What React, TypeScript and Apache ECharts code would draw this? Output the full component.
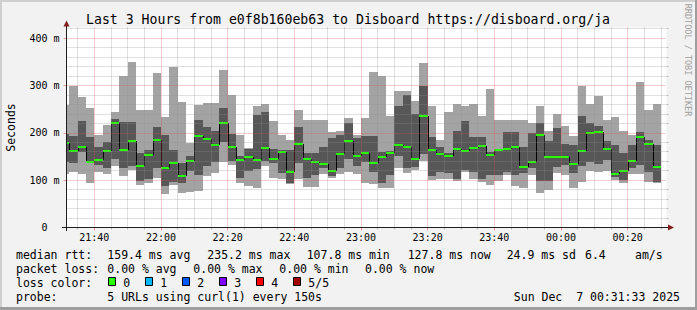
import React, { useEffect, useRef } from 'react';
import * as echarts from 'echarts';

// ---------- texts ----------
const TITLE = 'Last 3 Hours from e0f8b160eb63 to Disboard https://disboard.org/ja';
const Y_NAME = 'Seconds';
const WATERMARK = 'RRDTOOL / TOBI OETIKER';
const medianLabel = 'median rtt:';
const medianStats = ['159.4 ms avg', '235.2 ms max', '107.8 ms min', '127.8 ms now', '24.9 ms sd', '6.4', 'am/s'];
const lossLabel = 'packet loss:';
const lossStats = ['0.00 % avg', '0.00 % max', '0.00 % min', '0.00 % now'];
const lossColorLabel = 'loss color:';
const lossBuckets = ['0', '1', '2', '3', '4', '5/5'];
const probeLabel = 'probe:';
const probeText = '5 URLs using curl(1) every 150s';
const dateText = 'Sun Dec\u00a0 7 00:31:33 2025';

// ---------- time axis (minutes after 21:00) ----------
const STEP = 2.5;
const FIRST_BAR_START = 30;
const VIEW_START = 31.66;
const VIEW_END = 211.66;
const Y_MAX = 422.4;

const majorTimeTicks = [40, 60, 80, 100, 120, 140, 160, 180, 200];
const minorTimeTicks = [35, 45, 50, 55, 65, 70, 75, 85, 90, 95, 105, 110, 115, 125, 130, 135, 145, 150, 155, 165, 170, 175, 185, 190, 195, 205, 210];
const majorYTicks = [0, 100, 200, 300, 400];
const minorYTicks = [20, 40, 60, 80, 120, 140, 160, 180, 220, 240, 260, 280, 320, 340, 360, 380, 420];

// ---------- data (ms), one value per 150 s step ----------
const smokeMax = [259, 299, 275, 252, 196, 217, 244, 320, 350, 248, 248, 327, 234, 338, 266, 178, 258, 264, 264, 333, 279, 196, 168, 256, 260, 224, 196, 185, 248, 227, 227, 227, 201, 204, 232, 196, 232, 328, 321, 236, 289, 289, 268, 348, 256, 185, 244, 261, 257, 261, 236, 293, 227, 227, 227, 226, 220, 256, 203, 240, 215, 194, 299, 261, 277, 227, 234, 204, 196, 308, 248, 261];
const smokeUpper = [198, 194, 225, 192, 170, 180, 229, 222, 222, 158, 164, 213, 195, 164, 136, 152, 227, 212, 203, 253, 198, 150, 165, 238, 243, 166, 164, 164, 213, 158, 158, 171, 189, 196, 220, 189, 194, 194, 160, 162, 256, 280, 239, 299, 192, 171, 158, 204, 225, 192, 192, 160, 166, 201, 201, 171, 199, 220, 183, 211, 176, 175, 235, 220, 215, 183, 175, 157, 175, 201, 185, 175];
const median = [178, 161, 169, 139, 143, 161, 220, 163, 182, 129, 154, 184, 125, 137, 108, 141, 194, 186, 175, 220, 170, 142, 148, 143, 167, 144, 160, 118, 177, 144, 139, 134, 120, 156, 182, 150, 158, 136, 148, 158, 175, 171, 145, 235, 164, 155, 150, 165, 161, 167, 173, 154, 164, 166, 169, 128, 139, 196, 148, 148, 148, 135, 162, 199, 201, 166, 114, 120, 141, 191, 177, 127];
const smokeLower = [138, 136, 160, 136, 132, 125, 145, 125, 130, 99, 103, 125, 88, 97, 93, 120, 110, 129, 138, 180, 140, 104, 120, 124, 140, 136, 115, 94, 136, 104, 111, 125, 108, 125, 145, 130, 139, 118, 94, 111, 150, 125, 128, 155, 108, 118, 115, 102, 122, 118, 103, 111, 110, 118, 111, 115, 125, 99, 99, 128, 132, 115, 130, 139, 135, 142, 107, 100, 125, 132, 118, 97];
const smokeMin = [113, 118, 113, 95, 118, 112, 130, 108, 122, 89, 94, 105, 70, 90, 73, 75, 78, 108, 116, 138, 131, 93, 88, 84, 130, 104, 103, 91, 103, 85, 85, 113, 105, 113, 117, 113, 93, 92, 83, 83, 125, 115, 122, 140, 100, 103, 103, 98, 118, 103, 97, 90, 99, 111, 88, 83, 110, 73, 80, 115, 110, 83, 97, 120, 118, 120, 101, 94, 114, 113, 97, 95];

// ---------- styles ----------
const FONT = '"DejaVu Sans Mono", monospace';
const BG = '#f2f2f2';
const GRID_C = 'rgba(143,143,143,0.55)';
const MGRID_C = 'rgba(222,79,79,0.55)';
const AXIS_C = '#1f1f1f';
const ARROW_C = '#801f1f';
const LIGHT = '#a3a3a3';
const DARK = '#575757';
const GREEN = '#26ff00';
const lossPalette = ['#26ff00', '#00b8ff', '#0059ff', '#7e00ff', '#ff0000', '#a10000'];

const pad = (n: number) => (n < 10 ? '0' + n : '' + n);
const fmtTime = (v: number) => {
  const t = Math.round(21 * 60 + v);
  return pad(Math.floor(t / 60) % 24) + ':' + pad(t % 60);
};

function buildOption() {
  const starts = median.map((_, i) => FIRST_BAR_START + i * STEP);
  const lightData = starts.map((s, i) => [s, s + STEP, smokeMin[i], smokeMax[i]]);
  const darkData = starts.map((s, i) => [s, s + STEP, smokeLower[i], smokeUpper[i]]);
  const medData = starts.map((s, i) => [s, s + STEP, median[i], i > 0 ? median[i - 1] : median[i]]);

  const rectRender = (color: string) => (_p: any, api: any) => {
    const a = api.coord([api.value(0), api.value(3)]);
    const b = api.coord([api.value(1), api.value(2)]);
    const x0 = Math.round(a[0]);
    const x1 = Math.round(b[0]);
    const y0 = Math.round(a[1]);
    const y1 = Math.round(b[1]);
    return { type: 'rect', shape: { x: x0, y: y0, width: x1 - x0, height: y1 - y0 }, style: { fill: color } };
  };

  const medRender = (_p: any, api: any) => {
    const a = api.coord([api.value(0), api.value(2)]);
    const b = api.coord([api.value(1), api.value(2)]);
    const p = api.coord([api.value(0), api.value(3)]);
    const x0 = Math.round(a[0]);
    const x1 = Math.round(b[0]);
    const y = Math.round(a[1]);
    const yp = Math.round(p[1]);
    return {
      type: 'group',
      children: [
        { type: 'line', shape: { x1: x0 + 0.5, y1: yp, x2: x0 + 0.5, y2: y }, style: { stroke: '#000', lineWidth: 1 } },
        { type: 'line', shape: { x1: x0, y1: y, x2: x1, y2: y }, style: { stroke: GREEN, lineWidth: 2 } },
      ],
    };
  };

  const txt = (text: string, x: number, y: number, size: number, align = 'left', extra: any = {}) => ({
    type: 'text',
    x,
    y,
    z: 50,
    ...extra,
    style: {
      text,
      fill: extra.fill || '#000',
      font: `${size}px ${FONT}`,
      textAlign: align,
      textVerticalAlign: 'middle',
      align,
      verticalAlign: 'middle',
    },
  });

  const rowY = [255.3, 269.3, 283.3, 297.3];
  const medX = [107.3, 207.3, 306.7, 407.7, 506.7, 585, 635];
  const lossX = [107.3, 193.3, 279.3, 365];
  const boxX = [108, 145, 182, 219, 256, 293];

  const graphics: any[] = [
    { type: 'rect', z: 1, shape: { x: 0, y: 0, width: 697, height: 2 }, style: { fill: '#cfcfcf' } },
    { type: 'rect', z: 1, shape: { x: 0, y: 0, width: 2, height: 310 }, style: { fill: '#cfcfcf' } },
    { type: 'rect', z: 1, shape: { x: 0, y: 307, width: 697, height: 3 }, style: { fill: '#9e9e9e' } },
    { type: 'rect', z: 1, shape: { x: 695, y: 0, width: 2, height: 310 }, style: { fill: '#9e9e9e' } },
    txt(TITLE, 348, 19.4, 13.2, 'center'),
    txt(Y_NAME, 11, 127.5, 11.5, 'center', { rotation: Math.PI / 2 }),
    txt(WATERMARK, 688, 60, 8.5, 'center', { rotation: -Math.PI / 2, fill: '#a0a0a0' }),
    // axis extensions and arrows
    { type: 'line', z: 50, shape: { x1: 62, y1: 227.5, x2: 668, y2: 227.5 }, style: { stroke: AXIS_C, lineWidth: 1 } },
    { type: 'line', z: 50, shape: { x1: 66.5, y1: 231, x2: 66.5, y2: 25 }, style: { stroke: AXIS_C, lineWidth: 1 } },
    { type: 'polygon', z: 51, shape: { points: [[63.5, 26.5], [66.5, 20.5], [69.5, 26.5]] }, style: { fill: ARROW_C } },
    { type: 'polygon', z: 51, shape: { points: [[668, 224.5], [674, 227.5], [668, 230.5]] }, style: { fill: ARROW_C } },
    txt(medianLabel, 16, rowY[0], 11.5),
    ...medianStats.map((s, i) => txt(s, medX[i], rowY[0], 11.5)),
    txt(lossLabel, 16, rowY[1], 11.5),
    ...lossStats.map((s, i) => txt(s, lossX[i], rowY[1], 11.5)),
    txt(lossColorLabel, 16, rowY[2], 11.5),
    ...lossBuckets.map((b, i) => ({
      type: 'rect',
      z: 50,
      shape: { x: boxX[i] + 0.5, y: 277.5, width: 7, height: 8 },
      style: { fill: lossPalette[i], stroke: '#000', lineWidth: 1 },
    })),
    ...lossBuckets.map((b, i) => txt(b, boxX[i] + 15.3, rowY[2], 11.5)),
    txt(probeLabel, 16, rowY[3], 11.5),
    txt(probeText, 107.3, rowY[3], 11.5),
    txt(dateText, 680, rowY[3], 11.5, 'right'),
  ];

  const axisFont = { fontFamily: FONT, fontSize: 10, color: '#000' };

  return {
    animation: false,
    backgroundColor: BG,
    grid: { left: 66.5, top: 27.5, width: 600, height: 200, show: true, backgroundColor: '#ffffff', borderWidth: 0 },
    xAxis: [
      {
        type: 'value', min: VIEW_START, max: VIEW_END, position: 'bottom', z: 3,
        axisLine: { show: true, onZero: false, lineStyle: { color: AXIS_C, width: 1 } },
        axisTick: { show: true, length: 3, customValues: majorTimeTicks, lineStyle: { color: MGRID_C } },
        axisLabel: { ...axisFont, customValues: majorTimeTicks, formatter: fmtTime, margin: 5 },
        splitLine: { show: true, lineStyle: { color: MGRID_C, width: 1, type: [1, 1] } },
      },
      {
        type: 'value', min: VIEW_START, max: VIEW_END, position: 'bottom', z: 3,
        axisLine: { show: false },
        axisTick: { show: true, length: 2, customValues: minorTimeTicks, lineStyle: { color: GRID_C } },
        axisLabel: { show: false },
        splitLine: { show: true, lineStyle: { color: GRID_C, width: 1, type: [1, 1] } },
      },
    ],
    yAxis: [
      {
        type: 'value', min: 0, max: Y_MAX, z: 3,
        axisLine: { show: true, onZero: false, lineStyle: { color: AXIS_C, width: 1 } },
        axisTick: { show: true, length: 3, customValues: majorYTicks, lineStyle: { color: MGRID_C } },
        axisLabel: {
          ...axisFont,
          customValues: majorYTicks,
          margin: 7,
          formatter: (v: number) => (v === 0 ? '{z|0}' : `${v} m`),
          rich: { z: { fontFamily: FONT, fontSize: 10, color: '#000', padding: [0, 12, 0, 0] } },
        },
        splitLine: { show: true, lineStyle: { color: MGRID_C, width: 1, type: [1, 1] } },
      },
      {
        type: 'value', min: 0, max: Y_MAX, z: 3,
        axisLine: { show: false },
        axisTick: { show: true, length: 2, customValues: minorYTicks, lineStyle: { color: GRID_C } },
        axisLabel: { show: false },
        splitLine: { show: true, lineStyle: { color: GRID_C, width: 1, type: [1, 1] } },
      },
    ],
    series: [
      { type: 'custom', name: 'smoke outer', xAxisIndex: 0, yAxisIndex: 0, clip: true, z: 1, renderItem: rectRender(LIGHT), data: lightData, encode: { x: [0, 1], y: [2, 3] } },
      { type: 'custom', name: 'smoke inner', xAxisIndex: 0, yAxisIndex: 0, clip: true, z: 1, renderItem: rectRender(DARK), data: darkData, encode: { x: [0, 1], y: [2, 3] } },
      { type: 'custom', name: 'median rtt', xAxisIndex: 0, yAxisIndex: 0, clip: true, z: 2, renderItem: medRender, data: medData, encode: { x: [0, 1], y: [2, 3] } },
    ],
    graphic: graphics,
  };
}

export default function App() {
  const ref = useRef<HTMLDivElement>(null);
  useEffect(() => {
    const chart = echarts.init(ref.current!, null, { renderer: 'svg', width: 697, height: 310 });
    chart.setOption(buildOption() as any);
    return () => chart.dispose();
  }, []);
  return <div ref={ref} style={{ position: 'fixed', left: 0, top: 0, width: 697, height: 310 }} />;
}
